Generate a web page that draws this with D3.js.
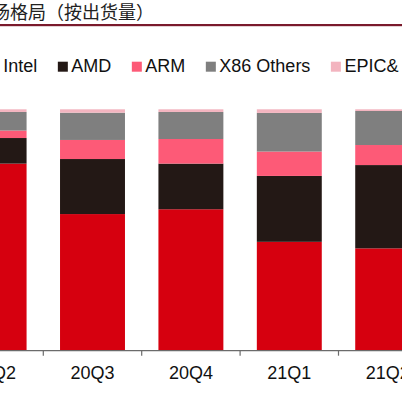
<!DOCTYPE html>
<html>
<head>
<meta charset="utf-8">
<script src="https://cdn.jsdelivr.net/npm/d3@7/dist/d3.min.js"></script>
<style>
html,body{margin:0;padding:0;background:#fff;overflow:hidden;}
svg{display:block;}
</style>
</head>
<body>
<svg id="chart" width="402" height="403"></svg>
<script>
const categories = ["20Q2", "20Q3", "20Q4", "21Q1", "21Q2"];
const intel = [77.5, 56.6, 58.6, 45.1, 42.4];
const amd = [10.6, 22.8, 18.9, 27.3, 34.5];
const arm = [3.1, 7.9, 10.2, 10.1, 8.3];
const x86Others = [7.7, 11.3, 11.2, 16.0, 14.1];
const epic = [1.1, 1.4, 1.1, 1.5, 0.7];
const seriesNames = ["Intel", "AMD", "ARM", "X86 Others", "EPIC&"];
const titleText = "场格局（按出货量）";

const colors = ["#d6000f", "#231815", "#fd5a77", "#7f7f7f", "#f3b4bf"];
const seriesValues = [intel, amd, arm, x86Others, epic];

const svg = d3.select("#chart");
const W = 402, H = 403;

// title
svg.append("text")
  .attr("x", -8).attr("y", 18.5)
  .attr("font-family", "'Noto Sans CJK SC', sans-serif")
  .attr("font-size", 18)
  .attr("fill", "#222")
  .text(titleText);
svg.append("rect").attr("x", 0).attr("y", 24).attr("width", W).attr("height", 2.2)
  .attr("fill", "#7a1a2c");

// data table
const table = categories.map((c, i) => {
  const row = {cat: c};
  seriesNames.forEach((s, j) => row[s] = seriesValues[j][i]);
  return row;
});
const stack = d3.stack().keys(seriesNames)(table);

const x = d3.scaleBand().domain(categories).range([-55.1, 436.9])
  .paddingInner(0.34).paddingOuter(0.17);
const y = d3.scaleLinear().domain([0, 100]).range([350.7, 109.3]);

const g = svg.append("g");
stack.forEach((layer, j) => {
  g.selectAll(null).data(layer).enter().append("rect")
    .attr("x", d => x(d.data.cat))
    .attr("width", x.bandwidth())
    .attr("y", d => y(d[1]))
    .attr("height", d => y(d[0]) - y(d[1]))
    .attr("fill", colors[j]);
});

// axis
const axisY = y(0);
const ax = svg.append("g").attr("transform", `translate(0,${axisY})`)
  .call(d3.axisBottom(x).tickSize(0).tickPadding(0));
ax.select(".domain").remove();
ax.selectAll("text")
  .attr("y", 28.3).attr("dy", 0)
  .attr("font-family", "'Liberation Sans', Arial, sans-serif")
  .attr("font-size", 18).attr("fill", "#111");
svg.append("line").attr("x1", 0).attr("x2", W).attr("y1", axisY).attr("y2", axisY)
  .attr("stroke", "#6b6b6b").attr("stroke-width", 1.2);
const gap = x.step() - x.bandwidth();
categories.slice(1).forEach(c => {
  const bx = x(c) - gap / 2;
  svg.append("line").attr("x1", bx).attr("x2", bx).attr("y1", axisY).attr("y2", axisY + 5)
    .attr("stroke", "#6b6b6b").attr("stroke-width", 1.2);
});

// legend
const leg = svg.append("g");
let lx = -10.2;
seriesNames.forEach((s, j) => {
  leg.append("rect").attr("x", lx).attr("y", 61.7).attr("width", 10).attr("height", 10)
    .attr("fill", colors[j]);
  const t = leg.append("text").attr("x", lx + 13.5).attr("y", 72.3)
    .attr("font-family", "'Liberation Sans', Arial, sans-serif")
    .attr("font-size", 18).attr("fill", "#111").text(s);
  lx = lx + 13.5 + t.node().getComputedTextLength() + 20.5;
});
</script>
</body>
</html>
